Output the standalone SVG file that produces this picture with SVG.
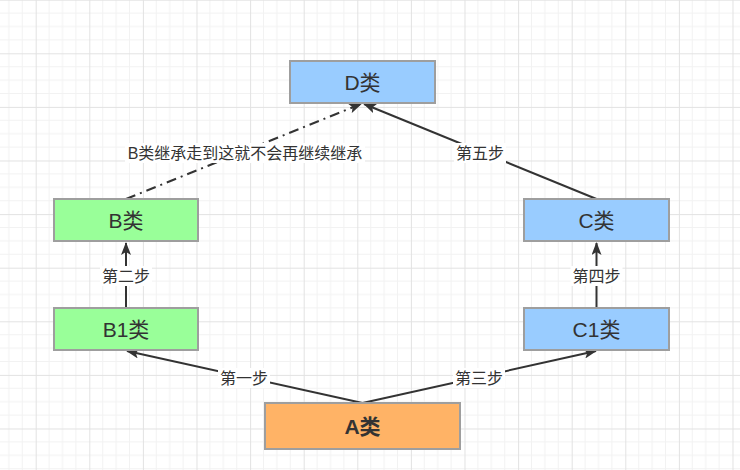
<svg xmlns="http://www.w3.org/2000/svg" width="740" height="470" viewBox="0 0 740 470">
<style>
.node rect{stroke:#9e9e9e;stroke-width:2}
.blue{fill:#99CCFF}.green{fill:#99FF99}.orange{fill:#FFB366}
.nt{font-family:"Liberation Sans","Noto Sans CJK SC",sans-serif;font-size:21px;fill:#333333;text-anchor:middle;dominant-baseline:central}
.edge{stroke:#333333;stroke-width:2;fill:none;marker-end:url(#arr)}
.lbl{font-family:"Liberation Sans","Noto Sans CJK SC",sans-serif;font-size:16px;fill:#333333;text-anchor:middle;dominant-baseline:central}
.lb{fill:#ffffff}
</style>
<defs>
<pattern id="grid" x="35.7" y="53.3" width="53.6" height="53.6" patternUnits="userSpaceOnUse">
<path d="M13.4 0V53.6M26.8 0V53.6M40.2 0V53.6M0 13.4H53.6M0 26.8H53.6M0 40.2H53.6" stroke="#f2f2f2" stroke-width="1"/>
<path d="M0.5 0V53.6M0 0.5H53.6" stroke="#e2e2e2" stroke-width="1"/>
</pattern>
<marker id="arr" viewBox="0 0 13 10" refX="12" refY="5" markerWidth="13" markerHeight="10" markerUnits="userSpaceOnUse" orient="auto">
<path d="M0,0 L13,5 L0,10 L3,5 Z" fill="#333333"/>
</marker>
</defs>
<rect width="740" height="470" fill="#ffffff"/>
<rect width="740" height="470" fill="url(#grid)"/>
<g id="connectors">
<line class="edge" x1="126" y1="308" x2="126" y2="243"/>
<line class="edge" x1="596.5" y1="308" x2="596.5" y2="243"/>
<line class="edge" x1="362.5" y1="403" x2="127" y2="351"/>
<line class="edge" x1="362.5" y1="403" x2="596" y2="351"/>
<line class="edge" x1="596.5" y1="199" x2="364" y2="104"/>
<line class="edge" x1="126" y1="199" x2="361" y2="104" stroke-dasharray="10 5 2 5"/>
<rect class="lb" x="100" y="266" width="52" height="20"/>
<text class="lbl" x="126" y="276">第二步</text>
<rect class="lb" x="570.5" y="266" width="52" height="20"/>
<text class="lbl" x="596.5" y="276">第四步</text>
<rect class="lb" x="218" y="368" width="52" height="20"/>
<text class="lbl" x="244" y="378">第一步</text>
<rect class="lb" x="453" y="368" width="52" height="20"/>
<text class="lbl" x="479" y="378">第三步</text>
<rect class="lb" x="454" y="143" width="52" height="20"/>
<text class="lbl" x="480" y="153">第五步</text>
<rect class="lb" x="125" y="143" width="240" height="20"/>
<text class="lbl" x="245" y="153">B类继承走到这就不会再继续继承</text>
</g>
<g id="D" class="node"><rect class="blue" x="290" y="61" width="145" height="42"/><text class="nt" x="362.5" y="82">D类</text></g>
<g id="B" class="node"><rect class="green" x="54" y="199" width="144" height="42"/><text class="nt" x="126" y="220">B类</text></g>
<g id="B1" class="node"><rect class="green" x="54" y="308" width="144" height="42"/><text class="nt" x="126" y="329">B1类</text></g>
<g id="C" class="node"><rect class="blue" x="524" y="199" width="145" height="42"/><text class="nt" x="596.5" y="220">C类</text></g>
<g id="C1" class="node"><rect class="blue" x="524" y="308" width="145" height="42"/><text class="nt" x="596.5" y="329">C1类</text></g>
<g id="A" class="node"><rect class="orange" x="265" y="403" width="195" height="46"/><text class="nt" x="362.5" y="426" font-weight="bold">A类</text></g>
</svg>
